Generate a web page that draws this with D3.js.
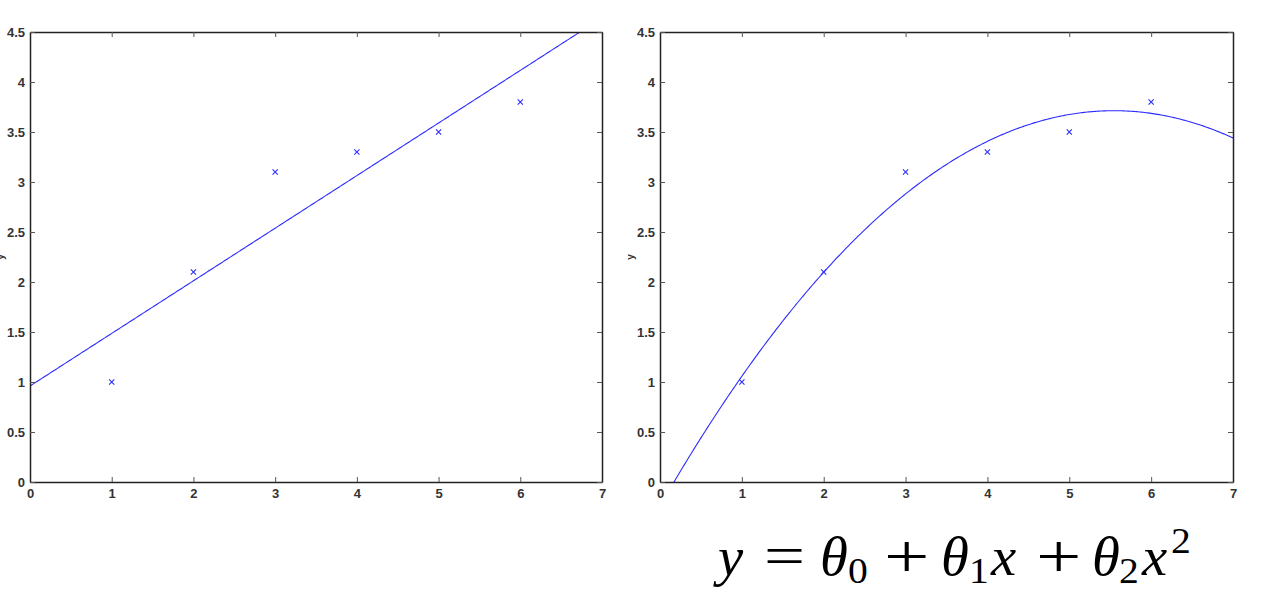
<!DOCTYPE html>
<html>
<head>
<meta charset="utf-8">
<script src="https://cdn.jsdelivr.net/npm/d3@7"></script>
<style>
  html, body { margin: 0; padding: 0; background: #fff; }
  svg { display: block; }
</style>
</head>
<body>
<svg id="chart" width="1262" height="598"></svg>
<script>
// ---- data ----
const xData = [1, 2, 3, 4, 5, 6];
const yData = [1.0, 2.1, 3.1, 3.3, 3.5, 3.8];
// fitted coefficients (theta0, theta1, theta2)
const linearTheta = [0.96, 0.526];
const quadTheta = [-0.24, 1.426, -0.1286];
const xTicks = [0, 1, 2, 3, 4, 5, 6, 7];
const yTicks = [0, 0.5, 1, 1.5, 2, 2.5, 3, 3.5, 4, 4.5];
const xTickLabels = ["0", "1", "2", "3", "4", "5", "6", "7"];
const yTickLabels = ["0", "0.5", "1", "1.5", "2", "2.5", "3", "3.5", "4", "4.5"];
const yLabel = "y";

(function () {
const svg = d3.select("#chart");
const blue = "#2b2bff";
const axisColor = "#222";

const panels = [
  { left: 30, right: 602, theta: linearTheta },
  { left: 660, right: 1233, theta: quadTheta }
];
const plotTop = 32, plotBottom = 482;

panels.forEach((p, pi) => {
  const x = d3.scaleLinear().domain([0, 7]).range([p.left, p.right]);
  const y = d3.scaleLinear().domain([0, 4.5]).range([plotBottom, plotTop]);
  const g = svg.append("g");

  const clipId = "clip" + pi;
  svg.append("clipPath").attr("id", clipId)
    .append("rect").attr("x", p.left).attr("y", plotTop)
    .attr("width", p.right - p.left).attr("height", plotBottom - plotTop);

  // fitted curve
  const samples = d3.range(0, 7.0001, 0.02);
  const fit = xv => p.theta.reduce((s, t, i) => s + t * Math.pow(xv, i), 0);
  g.append("path")
    .attr("clip-path", `url(#${clipId})`)
    .attr("d", d3.line().x(d => x(d)).y(d => y(fit(d)))(samples))
    .attr("fill", "none").attr("stroke", blue).attr("stroke-width", 1.1);

  // axes with inward ticks (MATLAB style box)
  const fmtX = (d, i) => xTickLabels[i];
  const fmtY = (d, i) => yTickLabels[i];
  const bAxis = d3.axisBottom(x).tickValues(xTicks).tickFormat(fmtX).tickSizeInner(-5).tickSizeOuter(0).tickPadding(7);
  const tAxis = d3.axisTop(x).tickValues(xTicks).tickFormat("").tickSizeInner(-5).tickSizeOuter(0);
  const lAxis = d3.axisLeft(y).tickValues(yTicks).tickFormat(fmtY).tickSizeInner(-5).tickSizeOuter(0).tickPadding(5);
  const rAxis = d3.axisRight(y).tickValues(yTicks).tickFormat("").tickSizeInner(-5).tickSizeOuter(0);

  const styleAxis = sel => {
    sel.select(".domain").attr("stroke", axisColor).attr("stroke-width", 1.5);
    sel.selectAll(".tick line").attr("stroke", "#555").attr("stroke-width", 1);
    sel.selectAll(".tick text").attr("fill", "#333")
      .style("font-family", "'Liberation Sans', Arial, sans-serif")
      .style("font-size", "13px").style("font-weight", "bold");
  };
  g.append("g").attr("transform", `translate(0,${plotBottom})`).call(bAxis).call(styleAxis);
  g.append("g").attr("transform", `translate(0,${plotTop})`).call(tAxis).call(styleAxis);
  g.append("g").attr("transform", `translate(${p.left},0)`).call(lAxis).call(styleAxis);
  g.append("g").attr("transform", `translate(${p.right},0)`).call(rAxis).call(styleAxis);

  // y label
  g.append("text")
    .attr("transform", `translate(${p.left - 26},${(plotTop + plotBottom) / 2}) rotate(-90)`)
    .attr("text-anchor", "middle")
    .style("font-family", "'Liberation Sans', Arial, sans-serif")
    .style("font-size", "10px").style("font-weight", "bold").attr("fill", "#333")
    .text(yLabel);

  // data markers
  const s = 2.6;
  const pts = xData.map((d, i) => [d, yData[i]]);
  g.append("g").selectAll("path.mk").data(pts).join("path")
    .attr("d", d => {
      const cx = x(d[0]), cy = y(d[1]);
      return `M${cx - s},${cy - s}L${cx + s},${cy + s}M${cx - s},${cy + s}L${cx + s},${cy - s}`;
    })
    .attr("stroke", blue).attr("stroke-width", 1.1).attr("fill", "none");
});

// equation under the right panel: y = θ0 + θ1x + θ2x²
const base = 575;
const glyphs = [
  { t: "y", x: 718, size: 54, it: true, dy: 0, sx: 1.05 },
  { t: "=", x: 764, size: 56, it: false, dy: 0, sx: 1.3 },
  { t: "θ", x: 820, size: 54, it: true, dy: 0, sx: 1.05 },
  { t: "0", x: 848, size: 36, it: false, dy: 8, sx: 1.1 },
  { t: "+", x: 884, size: 62, it: false, dy: 2, sx: 1.3 },
  { t: "θ", x: 941, size: 54, it: true, dy: 0, sx: 1.05 },
  { t: "1", x: 969, size: 36, it: false, dy: 8, sx: 1.1 },
  { t: "x", x: 991, size: 54, it: true, dy: 0, sx: 1.05 },
  { t: "+", x: 1036, size: 62, it: false, dy: 2, sx: 1.3 },
  { t: "θ", x: 1092, size: 54, it: true, dy: 0, sx: 1.05 },
  { t: "2", x: 1119, size: 36, it: false, dy: 8, sx: 1.1 },
  { t: "x", x: 1142, size: 54, it: true, dy: 0, sx: 1.05 },
  { t: "2", x: 1171, size: 36, it: false, dy: -22, sx: 1.1 }
];
const eq = svg.append("g");
glyphs.forEach(gl => {
  eq.append("text")
    .attr("transform", `translate(${gl.x},${base + gl.dy}) scale(${gl.sx},1)`)
    .style("font-family", "'Liberation Serif', 'Times New Roman', serif")
    .style("font-size", gl.size + "px")
    .style("font-style", gl.it ? "italic" : "normal")
    .attr("fill", "#000")
    .text(gl.t);
});
})();
</script>
</body>
</html>
